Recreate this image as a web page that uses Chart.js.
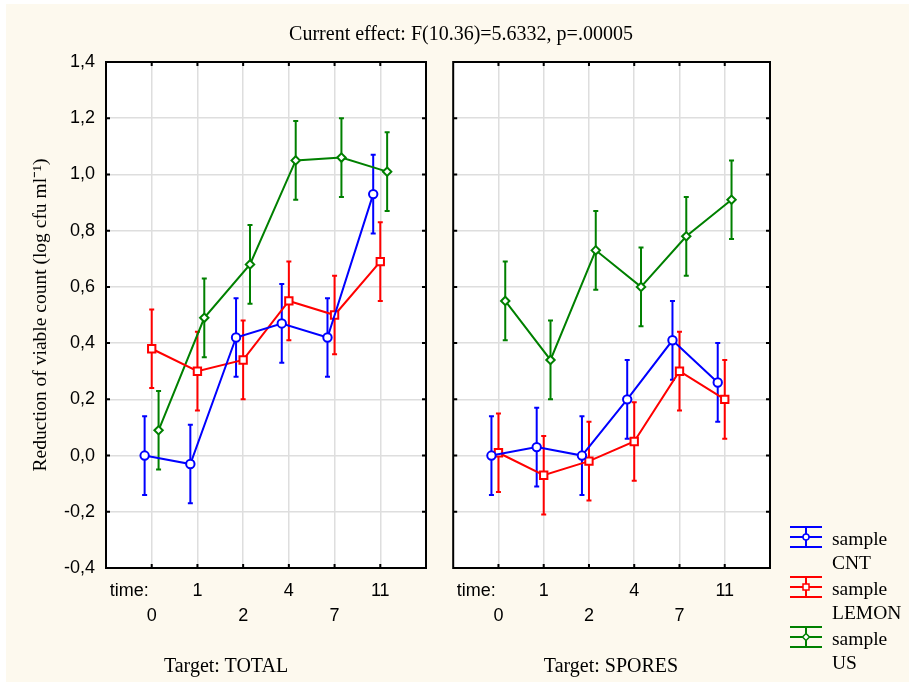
<!DOCTYPE html>
<html>
<head>
<meta charset="utf-8">
<script src="https://cdn.jsdelivr.net/npm/chart.js@4/dist/chart.umd.min.js"></script>
<style>
    body { margin: 0; background: #ffffff; }
    #wrap { position: relative; width: 909px; height: 687px; overflow: hidden; }
    #bg { position: absolute; left: 6px; top: 4px; width: 903px; height: 678px; background: #fdf9ee; }
    canvas { position: absolute; top: 0; }
    .label {
        position: absolute;
        font-family: 'Liberation Serif', 'Times New Roman', serif;
        font-size: 20px;
        line-height: 20px;
        color: #000;
        white-space: nowrap;
        transform: translateX(-50%);
    }
</style>
</head>
<body>
<div id="wrap">
    <div id="bg"></div>
    <canvas id="totalChart" width="446" height="687" style="left:0px;width:446px;height:687px"></canvas>
    <canvas id="sporesChart" width="463" height="687" style="left:446px;width:463px;height:687px"></canvas>
    <div class="label" style="left:461px;top:23px">Current effect: F(10.36)=5.6332, p=.00005</div>
    <div class="label" style="left:226px;top:655px">Target: TOTAL</div>
    <div class="label" style="left:611px;top:655px">Target: SPORES</div>
</div>

<script>
// Time points (days)
const times = ['0', '1', '2', '4', '7', '11'];

// Target: TOTAL - means and error half-widths
const totalCNT = [0.00, -0.03, 0.42, 0.47, 0.42, 0.93];
const totalLEMON = [0.38, 0.30, 0.34, 0.55, 0.50, 0.69];
const totalUS = [0.09, 0.49, 0.68, 1.05, 1.06, 1.01];
const totalErrCNT = [0.14, 0.14, 0.14, 0.14, 0.14, 0.14];
const totalErrLEMON = [0.14, 0.14, 0.14, 0.14, 0.14, 0.14];
const totalErrUS = [0.14, 0.14, 0.14, 0.14, 0.14, 0.14];

// Target: SPORES - means and error half-widths
const sporesCNT = [0.00, 0.03, 0.00, 0.20, 0.41, 0.26];
const sporesLEMON = [0.01, -0.07, -0.02, 0.05, 0.30, 0.20];
const sporesUS = [0.55, 0.34, 0.73, 0.60, 0.78, 0.91];
const sporesErrCNT = [0.14, 0.14, 0.14, 0.14, 0.14, 0.14];
const sporesErrLEMON = [0.14, 0.14, 0.14, 0.14, 0.14, 0.14];
const sporesErrUS = [0.14, 0.14, 0.14, 0.14, 0.14, 0.14];

// Y axis range
const yMin = -0.4;
const yMax = 1.4;
const yStep = 0.2;

let charts = {};

const SANS = "'Liberation Sans', Arial, sans-serif";
const SERIF = "'Liberation Serif', 'Times New Roman', serif";
const GRID = '#dedede';
const TIME_POS = 0.51;   // where "time:" sits on the x axis

// series look: small horizontal shift so bars don't overlap
const seriesStyle = [
    { name: 'CNT', color: '#0000ff', shape: 'circle', radius: 4.2, shift: -0.155 },
    { name: 'LEMON', color: '#ff0000', shape: 'rect', radius: 5.2, shift: 0 },
    { name: 'US', color: '#008000', shape: 'rectRot', radius: 4.2, shift: 0.15 }
];

function makeDatasets(means, errs) {
    return means.map((vals, s) => ({
        label: 'sample ' + seriesStyle[s].name,
        data: vals.map((v, i) => ({ x: i + 1 + seriesStyle[s].shift, y: v })),
        errors: errs[s],
        borderColor: seriesStyle[s].color,
        borderWidth: 2,
        pointStyle: seriesStyle[s].shape,
        pointRadius: seriesStyle[s].radius,
        pointBorderWidth: 2,
        pointBackgroundColor: '#ffffff',
        pointBorderColor: seriesStyle[s].color,
        tension: 0
    }));
}

// white plot area
const plotBackground = {
    id: 'plotBackground',
    beforeDraw(chart) {
        const { ctx, chartArea: a } = chart;
        ctx.save();
        ctx.fillStyle = '#ffffff';
        ctx.fillRect(a.left, a.top, a.right - a.left, a.bottom - a.top);
        ctx.restore();
    }
};

// vertical error bars with caps
const errorBars = {
    id: 'errorBars',
    beforeDatasetsDraw(chart) {
        const { ctx } = chart;
        const xs = chart.scales.x, ys = chart.scales.y;
        chart.data.datasets.forEach(ds => {
            ctx.save();
            ctx.strokeStyle = ds.borderColor;
            ctx.lineWidth = 2;
            ds.data.forEach((p, i) => {
                const px = xs.getPixelForValue(p.x);
                const top = ys.getPixelForValue(p.y + ds.errors[i]);
                const bot = ys.getPixelForValue(p.y - ds.errors[i]);
                ctx.beginPath();
                ctx.moveTo(px, top); ctx.lineTo(px, bot);
                ctx.moveTo(px - 2.5, top); ctx.lineTo(px + 2.5, top);
                ctx.moveTo(px - 2.5, bot); ctx.lineTo(px + 2.5, bot);
                ctx.stroke();
            });
            ctx.restore();
        });
    }
};

// black frame with small inward ticks
const frame = {
    id: 'frame',
    afterDraw(chart) {
        const { ctx, chartArea: a } = chart;
        const xs = chart.scales.x, ys = chart.scales.y;
        ctx.save();
        ctx.strokeStyle = '#000000';
        ctx.lineWidth = 2;
        ctx.strokeRect(a.left, a.top, a.right - a.left, a.bottom - a.top);
        ctx.beginPath();
        ys.ticks.forEach(t => {
            if (t.value <= yMin + 1e-9 || t.value >= yMax - 1e-9) return;
            const py = ys.getPixelForValue(t.value);
            ctx.moveTo(a.left, py); ctx.lineTo(a.left + 4, py);
            ctx.moveTo(a.right - 4, py); ctx.lineTo(a.right, py);
        });
        xs.ticks.forEach(t => {
            if (!Number.isInteger(t.value)) return;
            const px = xs.getPixelForValue(t.value);
            ctx.moveTo(px, a.top); ctx.lineTo(px, a.top + 4);
            ctx.moveTo(px, a.bottom - 4); ctx.lineTo(px, a.bottom);
        });
        ctx.stroke();
        ctx.restore();
    }
};

function drawMarker(ctx, shape, x, y, r) {
    ctx.beginPath();
    if (shape === 'circle') {
        ctx.arc(x, y, r, 0, Math.PI * 2);
    } else if (shape === 'rect') {
        ctx.rect(x - r, y - r, 2 * r, 2 * r);
    } else {
        ctx.moveTo(x, y - r); ctx.lineTo(x + r, y);
        ctx.lineTo(x, y + r); ctx.lineTo(x - r, y);
        ctx.closePath();
    }
    ctx.fillStyle = '#ffffff';
    ctx.fill();
    ctx.stroke();
}

// legend to the right of the SPORES panel
const sideLegend = {
    id: 'sideLegend',
    afterDraw(chart) {
        const { ctx, chartArea: a } = chart;
        const x0 = a.right + 20, x1 = a.right + 52, xm = (x0 + x1) / 2;
        ctx.save();
        seriesStyle.forEach((s, i) => {
            const cy = a.bottom - 31 + i * 50;
            ctx.strokeStyle = s.color;
            ctx.lineWidth = 2;
            ctx.beginPath();
            [-10, 0, 10].forEach(d => { ctx.moveTo(x0, cy + d); ctx.lineTo(x1, cy + d); });
            ctx.moveTo(xm, cy - 10); ctx.lineTo(xm, cy + 10);
            ctx.stroke();
            ctx.lineWidth = 1.5;
            drawMarker(ctx, s.shape, xm, cy, s.shape === 'rectRot' ? 3.5 : 3);
            ctx.fillStyle = '#000000';
            ctx.font = '19.5px ' + SERIF;
            ctx.textBaseline = 'alphabetic';
            ctx.textAlign = 'left';
            ctx.fillText('sample', a.right + 62, cy + 8);
            ctx.fillText(s.name, a.right + 62, cy + 32);
        });
        ctx.restore();
    }
};

function xAxis() {
    return {
        type: 'linear',
        min: 0,
        max: times.length + 1,
        afterBuildTicks: s => {
            s.ticks = [TIME_POS].concat(times.map((_, i) => i + 1)).map(v => ({ value: v }));
        },
        afterFit: s => {
            s.height = 119;
            s.paddingLeft = 0;
            s.paddingRight = 0;
        },
        ticks: {
            autoSkip: false,
            maxRotation: 0,
            minRotation: 0,
            padding: 11,
            color: '#000000',
            font: { family: SANS, size: 18, lineHeight: 25 / 18 },
            callback: v => {
                if (v === TIME_POS) return ['time:', ''];
                const i = v - 1;
                return i % 2 ? [times[i], ''] : ['', times[i]];
            }
        },
        grid: {
            color: c => (c.tick && Number.isInteger(c.tick.value)) ? GRID : 'rgba(0,0,0,0)',
            lineWidth: 1.5,
            drawTicks: false
        },
        border: { display: false }
    };
}

function yAxis(showLabels) {
    return {
        min: yMin,
        max: yMax,
        afterFit: s => { s.width = showLabels ? 106 : 0; },
        ticks: {
            display: showLabels,
            stepSize: yStep,
            padding: 11,
            color: '#000000',
            font: { family: SANS, size: 18 },
            callback: v => {
                const r = Math.round(v * 10) / 10;
                return (r === 0 ? 0 : r).toFixed(1).replace('.', ',');
            }
        },
        grid: { color: GRID, lineWidth: 1.5, drawTicks: false },
        border: { display: false },
        title: {
            display: showLabels,
            text: 'Reduction of viable count (log cfu ml\u207B\u00B9)',
            color: '#000000',
            font: { family: SERIF, size: 19.5 },
            padding: { top: 29, bottom: 0 }
        }
    };
}

function baseOptions(padding, showLabels) {
    return {
        responsive: false,
        animation: false,
        layout: { padding },
        scales: { x: xAxis(), y: yAxis(showLabels) },
        plugins: {
            legend: { display: false },
            tooltip: { enabled: false }
        }
    };
}

// Create TOTAL panel
function createTotalChart() {
    const ctx = document.getElementById('totalChart');
    if (charts.total) charts.total.destroy();
    charts.total = new Chart(ctx, {
        type: 'line',
        data: {
            datasets: makeDatasets(
                [totalCNT, totalLEMON, totalUS],
                [totalErrCNT, totalErrLEMON, totalErrUS]
            )
        },
        options: baseOptions({ left: 0, right: 20, top: 62, bottom: 0 }, true),
        plugins: [plotBackground, errorBars, frame]
    });
}

// Create SPORES panel
function createSporesChart() {
    const ctx = document.getElementById('sporesChart');
    if (charts.spores) charts.spores.destroy();
    charts.spores = new Chart(ctx, {
        type: 'line',
        data: {
            datasets: makeDatasets(
                [sporesCNT, sporesLEMON, sporesUS],
                [sporesErrCNT, sporesErrLEMON, sporesErrUS]
            )
        },
        options: baseOptions({ left: 5, right: 139, top: 62, bottom: 0 }, false),
        plugins: [plotBackground, errorBars, frame, sideLegend]
    });
}

document.addEventListener('DOMContentLoaded', () => {
    createTotalChart();
    createSporesChart();
});
</script>
</body>
</html>
